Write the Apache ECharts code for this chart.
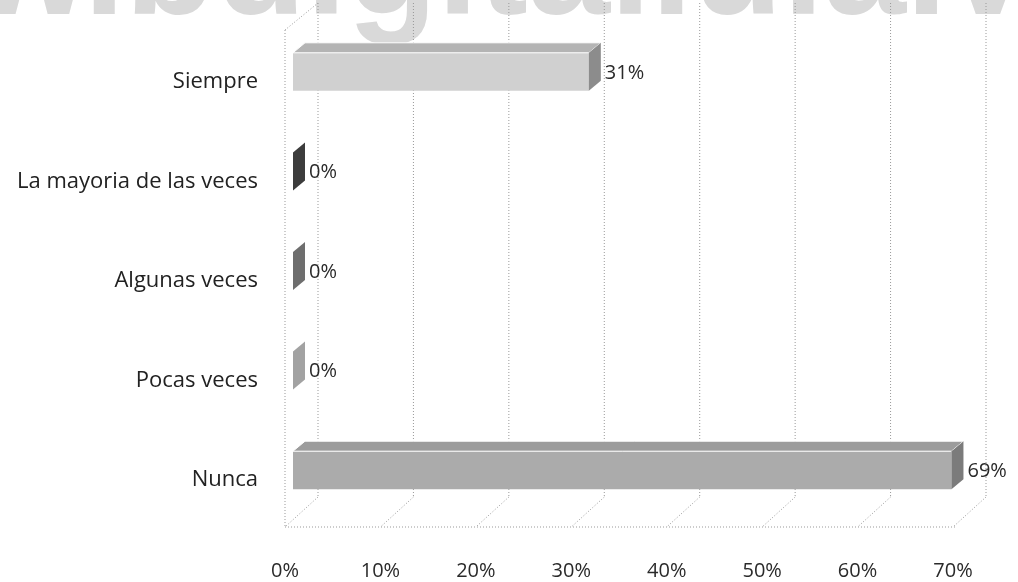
<!DOCTYPE html>
<html>
<head>
<meta charset="utf-8">
<title>grafico</title>
<script src="https://cdn.jsdelivr.net/npm/echarts@6/dist/echarts.min.js"></script>
<style>
  html, body { margin: 0; padding: 0; background: #fff; }
  #main { width: 1018px; height: 582px; }
</style>
</head>
<body>
<div id="main"></div>
<script>
// datos
var categorias = ['Siempre', 'La mayoria de las veces', 'Algunas veces', 'Pocas veces', 'Nunca'];
var valores = [31, 0, 0, 0, 69];
var marcas = [0, 10, 20, 30, 40, 50, 60, 70];

// tonos de gris de cada barra: frente, tapa, lado
var grises = [
    ['#d0d0d0', '#b4b4b4', '#8c8c8c'],
    ['#6a6a6a', '#555555', '#3c3c3c'],
    ['#9a9a9a', '#888888', '#6e6e6e'],
    ['#c4c4c4', '#b8b8b8', '#a2a2a2'],
    ['#ababab', '#9c9c9c', '#7b7b7b']
];

var punteado = { stroke: '#999999', lineWidth: 1, lineDash: [1, 2] };
var fuente = '"Open Sans", sans-serif';

var chart = echarts.init(document.getElementById('main'));

// paredes y piso de la caja 3d
function pintarCaja(params, api) {
    var cs = params.coordSys;
    var t = api.value(0);
    var x = api.coord([t, 0])[0];
    var arriba = cs.y, abajo = cs.y + cs.height;
    var hijos = [];
    // linea de la pared del fondo
    hijos.push({ type: 'line', shape: { x1: x + 25, y1: arriba - 19, x2: x + 25, y2: abajo - 23 }, style: punteado });
    // diagonal del piso
    hijos.push({ type: 'line', shape: { x1: x + 25, y1: abajo - 23, x2: x - 8, y2: abajo + 7 }, style: punteado });
    if (params.dataIndex === 0) {
        var xFin = cs.x + cs.width;
        hijos.push({ type: 'line', shape: { x1: x - 8, y1: arriba + 8, x2: x - 8, y2: abajo + 7 }, style: punteado });
        hijos.push({ type: 'line', shape: { x1: x - 8, y1: arriba + 8, x2: x + 25, y2: arriba - 19 }, style: punteado });
        hijos.push({ type: 'line', shape: { x1: x - 8, y1: abajo + 7, x2: xFin - 6, y2: abajo + 7 }, style: punteado });
    }
    return { type: 'group', children: hijos };
}

// barra con frente, tapa y lado
function pintarBarra(params, api) {
    var i = params.dataIndex;
    var v = api.value(0);
    var ini = api.coord([0, i]);
    var fin = api.coord([v, i]);
    var h = 38, dx = 12, dy = -10;
    var y1 = ini[1] - h / 2, y2 = ini[1] + h / 2;
    var x0 = ini[0], x1 = fin[0];
    var g = grises[i];
    var hijos = [];
    if (x1 > x0) {
        hijos.push({ type: 'rect', shape: { x: x0, y: y1, width: x1 - x0, height: h }, style: { fill: g[0] } });
        hijos.push({ type: 'polygon', shape: { points: [[x0, y1], [x1, y1], [x1 + dx, y1 + dy], [x0 + dx, y1 + dy]] },
            style: { fill: g[1], stroke: '#ffffff', lineWidth: 1 } });
    }
    hijos.push({ type: 'polygon', shape: { points: [[x1, y1], [x1 + dx, y1 + dy], [x1 + dx, y2 + dy], [x1, y2]] },
        style: { fill: g[2] } });
    hijos.push({ type: 'text', x: x1 + dx + 4, y: ini[1] + 1,
        style: { text: v + '%', fill: '#2a2a2a', font: '20px ' + fuente, align: 'left', verticalAlign: 'middle' } });
    return { type: 'group', children: hijos };
}

var option = {
    animation: false,
    backgroundColor: '#ffffff',
    graphic: [{
        type: 'text',
        left: -256,
        top: -101,
        z: -10,
        style: { text: 'www.bdigital.ula.ve', fill: '#d9d9d9', font: 'bold 148px "Liberation Sans", Arial, sans-serif' }
    }],
    grid: { left: 293, right: 57, top: 22, bottom: 62 },
    xAxis: {
        type: 'value',
        min: 0,
        max: 70,
        interval: 10,
        axisLine: { show: false },
        axisTick: { show: false },
        splitLine: { show: false },
        axisLabel: {
            formatter: '{value}%',
            margin: 41,
            padding: [0, 16, 0, 0],
            color: '#2a2a2a',
            fontSize: 20,
            fontFamily: fuente
        }
    },
    yAxis: {
        type: 'category',
        data: categorias,
        inverse: true,
        axisLine: { show: false },
        axisTick: { show: false },
        axisLabel: {
            margin: 35,
            verticalAlign: 'top',
            lineHeight: 20,
            color: '#222222',
            fontSize: 22,
            fontFamily: fuente
        }
    },
    series: [
        {
            type: 'custom',
            renderItem: pintarCaja,
            data: marcas.map(function (t) { return [t, 0]; }),
            encode: { x: 0, y: 1 },
            z: 1
        },
        {
            type: 'custom',
            renderItem: pintarBarra,
            data: valores.map(function (v, i) { return [v, i]; }),
            encode: { x: 0, y: 1 },
            z: 2
        }
    ]
};

chart.setOption(option);
</script>
</body>
</html>
